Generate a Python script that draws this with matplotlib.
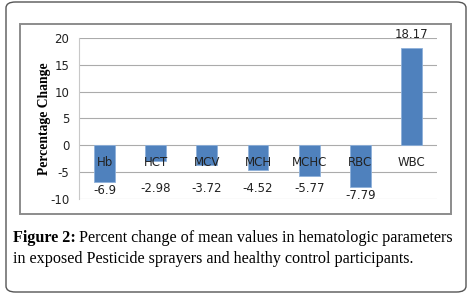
import matplotlib.pyplot as plt
from matplotlib.patches import FancyBboxPatch, Rectangle

# data
params = ["Hb", "HCT", "MCV", "MCH", "MCHC", "RBC", "WBC"]
pct_change = [-6.9, -2.98, -3.72, -4.52, -5.77, -7.79, 18.17]
value_labels = ["-6.9", "-2.98", "-3.72", "-4.52", "-5.77", "-7.79", "18.17"]
yticks = [-10, -5, 0, 5, 10, 15, 20]

bar_color = "#4F81BD"
grid_color = "#ABABAB"
text_color = "#222222"

fig = plt.figure(figsize=(4.71, 2.97), dpi=100)

# outer rounded frame
fig.patches.append(FancyBboxPatch((6 / 471, 5 / 297), 460 / 471, 290 / 297,
                                  boxstyle="round,pad=0,rounding_size=0.02",
                                  transform=fig.transFigure, fill=False,
                                  edgecolor="#555555", linewidth=1.0))
# chart area border
fig.patches.append(Rectangle((20 / 471, 1 - 214 / 297), 431 / 471, 190 / 297,
                             transform=fig.transFigure, fill=False,
                             edgecolor="#8C8C8C", linewidth=1.4))

ax = fig.add_axes([79 / 471, 1 - 199 / 297, 358 / 471, 161 / 297])
x = list(range(len(params)))
ax.bar(x, pct_change, width=0.41, color=bar_color, edgecolor="#8DB0DA",
       linewidth=0.6, zorder=2)

ax.set_xlim(-0.5, len(params) - 0.5)
ax.set_ylim(-10, 20)
ax.set_yticks(yticks)
ax.set_yticklabels([str(t) for t in yticks], fontsize=8.5, color=text_color)
ax.yaxis.grid(True, color=grid_color, linewidth=0.8, zorder=0)
ax.set_axisbelow(True)
ax.set_xticks([])
ax.tick_params(axis="y", length=0, pad=7)
ax.spines["left"].set_color("#C8C8C8")
for side in ["top", "right", "bottom"]:
    ax.spines[side].set_visible(False)

# category labels sit just under the zero line, over the bars
for i, p in enumerate(params):
    ax.annotate(p, (i, 0), xytext=(0, -8), textcoords="offset points",
                ha="center", va="top", fontsize=8.5, color=text_color, zorder=5)

for i, (v, s) in enumerate(zip(pct_change, value_labels)):
    if v >= 0:
        ax.text(i, v + 1.2, s, ha="center", va="bottom", fontsize=8.5,
                color=text_color)
    else:
        ax.text(i, min(v - 0.3, -6.8), s, ha="center", va="top", fontsize=8.5,
                color=text_color)

ax.set_ylabel("Percentage Change", family="Liberation Serif", fontweight="bold",
              fontsize=9.8, labelpad=-1)

# caption
cap_size = 11.6
t1 = fig.text(13 / 471, 1 - 238 / 297, "Figure 2:", family="Liberation Serif",
              fontweight="bold", fontsize=cap_size, va="center")
fig.canvas.draw()
bb = t1.get_window_extent()
fig.text((bb.x1 + 3) / 471, 1 - 238 / 297,
         "Percent change of mean values in hematologic parameters",
         family="Liberation Serif", fontsize=cap_size, va="center")
fig.text(13 / 471, 1 - 259 / 297,
         "in exposed Pesticide sprayers and healthy control participants.",
         family="Liberation Serif", fontsize=cap_size, va="center")

fig.savefig("out.png", dpi=100)
